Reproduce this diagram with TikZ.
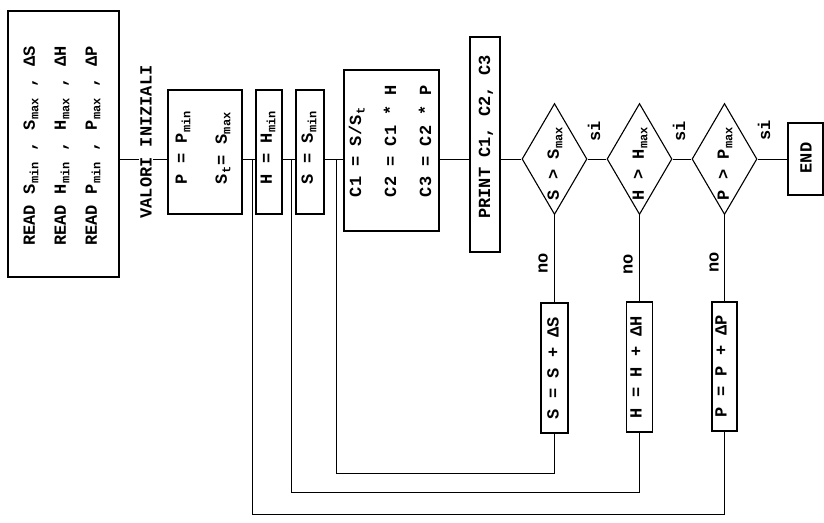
\documentclass[tikz,border=0pt]{standalone}
\usepackage{fontspec}
\usepackage{graphicx}
\setmonofont{Liberation Mono}
\usetikzlibrary{shapes.geometric}

% typewriter text of a given size and line distance
\newcommand\twfont[2]{\ttfamily\bfseries\fontsize{#1}{#2}\selectfont}
% lowered index, set smaller
\newcommand\sbx[1]{\kern0.5pt\raisebox{-3.5pt}{\fontsize{12}{12}\selectfont #1}\kern1pt}

\tikzset{
  blk/.style={draw, rectangle, line width=1.1pt, inner sep=0pt},
  dec/.style={draw, diamond, line width=1.1pt, inner sep=0pt,
              minimum width=65pt, minimum height=111pt},
  lbl/.style={rotate=90, align=left, inner sep=0pt, font=\twfont{17}{20}},
  flow/.style={line width=1pt},
}

\begin{document}
\begin{tikzpicture}[x=1pt, y=-1pt]
\useasboundingbox (0,0) rectangle (824,522);

% ---- boxes of the main chain ----
\node[blk, minimum width=111pt, minimum height=266pt] (read) at (63.5,144) {};
\node[blk, minimum width=74pt,  minimum height=124pt] (pbox) at (205,152) {};
\node[blk, minimum width=26pt,  minimum height=124pt] (hbox) at (269,152) {};
\node[blk, minimum width=28pt,  minimum height=124pt] (sbox) at (310,152) {};
\node[blk, minimum width=95pt,  minimum height=161pt] (cbox) at (391.5,150.5) {};
\node[blk, minimum width=30pt,  minimum height=215pt] (prt)  at (485,144.5) {};

\node[dec] (d1) at (554.5,159) {};
\node[dec] (d2) at (639.5,159) {};
\node[dec] (d3) at (724.5,159) {};

\node[blk, minimum width=35pt, minimum height=72pt] (endb) at (805.5,159) {};

% ---- increment boxes ----
\node[blk, minimum width=27pt, minimum height=130pt] (u1) at (554.5,368) {};
\node[blk, minimum width=26pt, minimum height=130pt] (u2) at (639.5,367) {};
\node[blk, minimum width=25pt, minimum height=129pt] (u3) at (724.5,366.5) {};

% ---- main flow line ----
\coordinate (f) at (0,159);
\draw[flow] (read.east |- f) -- (pbox.west |- f);
\draw[flow] (pbox.east |- f) -- (hbox.west |- f);
\draw[flow] (hbox.east |- f) -- (sbox.west |- f);
\draw[flow] (sbox.east |- f) -- (cbox.west |- f);
\draw[flow] (cbox.east |- f) -- (prt.west |- f);
\draw[flow] (prt.east |- f) -- (d1.west);
\draw[flow] (d1.east) -- (d2.west);
\draw[flow] (d2.east) -- (d3.west);
\draw[flow] (d3.east) -- (endb.west);

% ---- "no" branches ----
\draw[flow] (d1.south) -- (u1.north);
\draw[flow] (d2.south) -- (u2.north);
\draw[flow] (d3.south) -- (u3.north);

% ---- loops back into the chain ----
\coordinate (c1) at (336,473);  \coordinate (j1) at (336,159);
\coordinate (c2) at (291,492);  \coordinate (j2) at (291,159);
\coordinate (c3) at (252,514);  \coordinate (j3) at (252,159);
\draw[flow] (u1.south) |- (c1) -- (j1);
\draw[flow] (u2.south) |- (c2) -- (j2);
\draw[flow] (u3.south) |- (c3) -- (j3);

% ---- texts ----
\node[lbl, font=\twfont{17}{31}] (tread) at (62,146)
  {READ S\sbx{min}\ , S\sbx{max}\ , ΔS\\
   READ H\sbx{min}\ , H\sbx{max}\ , ΔH\\
   READ P\sbx{min}\ , P\sbx{max}\ , ΔP};
\node[lbl, fill=white, inner sep=1pt] (tval) at (146,142) {VALORI INIZIALI};
\node[lbl, font=\twfont{17}{40}] (tp) at (203,147)
  {P = P\sbx{min}\\S\sbx{t}= S\sbx{max}};
\node[lbl] (th) at (268,147) {H = H\sbx{min}};
\node[lbl] (ts) at (309,147) {S = S\sbx{min}};
\node[lbl, font=\twfont{17}{35}] (tc) at (390,141)
  {C1 = S/S\sbx{t}\\C2 = C1 * H\\C3 = C2 * P};
\node[lbl] (tprt) at (486,137) {PRINT C1, C2, C3};

\node[lbl] (td1) at (555,163) {S > S\sbx{max}};
\node[lbl] (td2) at (640,163) {H > H\sbx{max}};
\node[lbl] (td3) at (725,163) {P > P\sbx{max}};
\node[lbl] (tend) at (806,158) {END};

\node[lbl] (tu1) at (553,368) {S = S + ΔS};
\node[lbl] (tu2) at (636,367) {H = H + ΔH};
\node[lbl] (tu3) at (721,366) {P = P + ΔP};

\node[lbl] (si1) at (594,131) {si};
\node[lbl] (si2) at (679,131) {si};
\node[lbl] (si3) at (764,130) {si};
\node[lbl] (no1) at (543,263) {no};
\node[lbl] (no2) at (628,264) {no};
\node[lbl] (no3) at (714,262) {no};
\end{tikzpicture}
\end{document}
